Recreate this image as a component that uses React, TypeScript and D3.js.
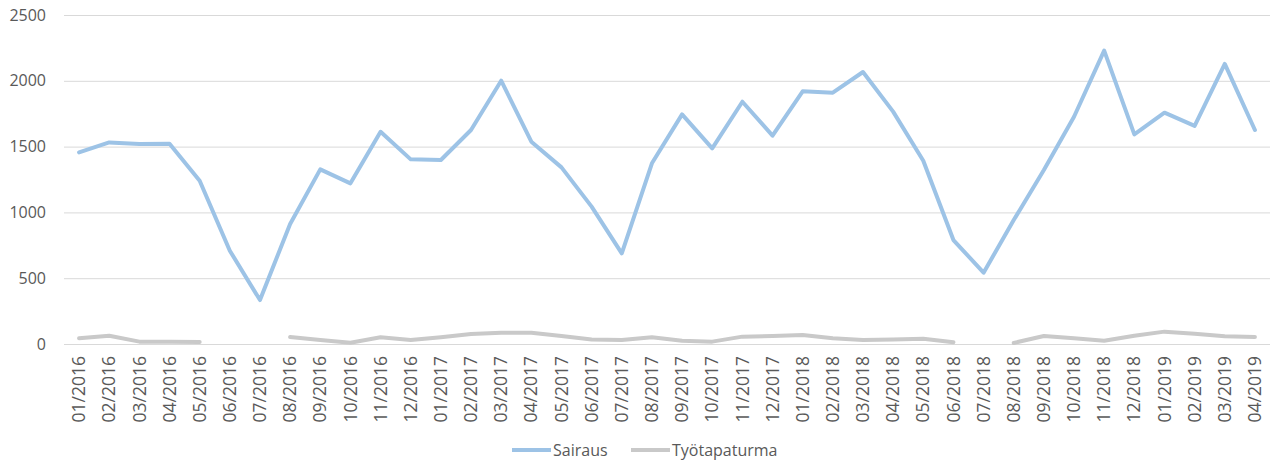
import React, { useEffect, useRef } from 'react';
import * as d3 from 'd3';

const months = [
  '01/2016', '02/2016', '03/2016', '04/2016', '05/2016', '06/2016', '07/2016', '08/2016', '09/2016', '10/2016', '11/2016', '12/2016',
  '01/2017', '02/2017', '03/2017', '04/2017', '05/2017', '06/2017', '07/2017', '08/2017', '09/2017', '10/2017', '11/2017', '12/2017',
  '01/2018', '02/2018', '03/2018', '04/2018', '05/2018', '06/2018', '07/2018', '08/2018', '09/2018', '10/2018', '11/2018', '12/2018',
  '01/2019', '02/2019', '03/2019', '04/2019',
];

const sairaus = [
  1456, 1532, 1520, 1522, 1241, 709, 334, 912, 1327, 1221, 1613, 1403,
  1398, 1626, 2001, 1537, 1342, 1044, 689, 1373, 1745, 1487, 1841, 1583,
  1920, 1910, 2067, 1766, 1393, 790, 542, 942, 1322, 1727, 2229, 1593,
  1758, 1657, 2128, 1626,
];

const tyotapaturma: (number | null)[] = [
  43, 63, 18, 18, 15, null, null, 53, 30, 10, 51, 30,
  51, 76, 86, 86, 61, 35, 30, 51, 25, 18, 56, 61,
  68, 43, 30, 35, 40, 13, null, 8, 61, 43, 25, 63,
  94, 78, 58, 53,
];

const yTicks = [0, 500, 1000, 1500, 2000, 2500];

const series = [
  { name: 'Sairaus', values: sairaus as (number | null)[], color: '#9DC3E6' },
  { name: 'Työtapaturma', values: tyotapaturma, color: '#C9C9C9' },
];

export default function App() {
  const svgRef = useRef<SVGSVGElement | null>(null);

  useEffect(() => {
    if (!svgRef.current) return;
    const svg = d3.select(svgRef.current);
    svg.selectAll('*').remove();

    const width = 1274;
    const height = 465;
    const margin = { top: 15, right: 4, bottom: 121, left: 64 };
    const font = "'Open Sans', 'Noto Sans', sans-serif";

    svg.append('rect').attr('width', width).attr('height', height).attr('fill', '#fff');

    const x = d3.scaleBand<string>()
      .domain(months)
      .range([margin.left, width - margin.right]);

    const y = d3.scaleLinear()
      .domain([0, 2500])
      .range([height - margin.bottom, margin.top]);

    // gridlines
    svg.append('g')
      .selectAll('line')
      .data(yTicks)
      .join('line')
      .attr('x1', margin.left)
      .attr('x2', width - margin.right)
      .attr('y1', d => y(d) + 0.5)
      .attr('y2', d => y(d) + 0.5)
      .attr('stroke', '#D9D9D9')
      .attr('stroke-width', 1);

    // y axis labels
    svg.append('g')
      .selectAll('text')
      .data(yTicks)
      .join('text')
      .attr('x', 46)
      .attr('y', d => y(d))
      .attr('dy', '0.35em')
      .attr('text-anchor', 'end')
      .attr('font-family', font)
      .attr('font-size', 16)
      .attr('fill', '#595959')
      .text(d => String(d));

    // x axis labels (rotated)
    svg.append('g')
      .selectAll('text')
      .data(months)
      .join('text')
      .attr('transform', d => `translate(${x(d)! + x.bandwidth() / 2},${y(0) + 12}) rotate(-90)`)
      .attr('dy', '0.35em')
      .attr('text-anchor', 'end')
      .attr('font-family', font)
      .attr('font-size', 17.5)
      .attr('fill', '#595959')
      .text(d => d);

    const line = d3.line<number | null>()
      .defined(d => d !== null)
      .x((_, i) => x(months[i])! + x.bandwidth() / 2)
      .y(d => y(d as number));

    series.slice().reverse().forEach(s => {
      svg.append('path')
        .datum(s.values)
        .attr('fill', 'none')
        .attr('stroke', s.color)
        .attr('stroke-width', 4)
        .attr('stroke-linejoin', 'round')
        .attr('stroke-linecap', 'round')
        .attr('d', line);
    });

    // legend
    const legendItems = [
      { ...series[0], x: 512 },
      { ...series[1], x: 631 },
    ];
    const legend = svg.append('g');
    legendItems.forEach(item => {
      legend.append('line')
        .attr('x1', item.x)
        .attr('x2', item.x + 39)
        .attr('y1', 450)
        .attr('y2', 450)
        .attr('stroke', item.color)
        .attr('stroke-width', 4);
      legend.append('text')
        .attr('x', item.x + 41)
        .attr('y', 450)
        .attr('dy', '0.35em')
        .attr('font-family', font)
        .attr('font-size', 16)
        .attr('fill', '#595959')
        .text(item.name);
    });
  }, []);

  return (
    <svg
      ref={svgRef}
      width={1274}
      height={465}
      style={{ position: 'absolute', left: 0, top: 0, display: 'block' }}
    />
  );
}
